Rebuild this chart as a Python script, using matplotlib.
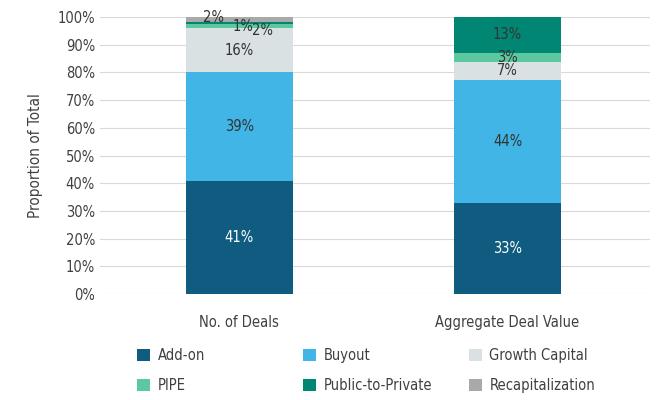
import matplotlib
matplotlib.use("Agg")
import matplotlib.pyplot as plt
import numpy as np

plt.rcParams['font.family'] = ['DejaVu Sans']
plt.rcParams['font.stretch'] = 'condensed'

categories = ["No. of Deals", "Aggregate Deal Value"]
series = ["Add-on", "Buyout", "Growth Capital", "PIPE", "Public-to-Private", "Recapitalization"]
values = {
    "Add-on": [40.8, 32.9],
    "Buyout": [39.2, 44.4],
    "Growth Capital": [15.9, 6.6],
    "PIPE": [1.7, 3.2],
    "Public-to-Private": [0.7, 12.9],
    "Recapitalization": [1.7, 0.0],
}
labels = {
    "Add-on": ["41%", "33%"],
    "Buyout": ["39%", "44%"],
    "Growth Capital": ["16%", "7%"],
    "PIPE": ["2%", "3%"],
    "Public-to-Private": ["1%", "13%"],
    "Recapitalization": ["2%", ""],
}
colors = ["#0F5C80", "#41B6E6", "#D9E1E2", "#5BC8A0", "#008673", "#A9A9A9"]

fig = plt.figure(figsize=(6.57, 4), dpi=100)
ax = fig.add_axes([0.152, 0.265, 0.837, 0.6925])

x = np.arange(len(categories))
bottom = np.zeros(len(categories))
# small offsets for the crowded labels at the top of the first bar
nudge = {("PIPE", 0): (0.085, -1.5), ("Public-to-Private", 0): (0.015, -1.5),
         ("Recapitalization", 0): (-0.095, 0.5)}
handles = []
for s, c in zip(series, colors):
    v = np.array(values[s])
    b = ax.bar(x, v, 0.4, bottom=bottom, color=c, label=s, zorder=2)
    handles.append(b)
    for i in range(len(categories)):
        if labels[s][i] == "":
            continue
        dx, dy = nudge.get((s, i), (0, 0))
        tc = "white" if s == "Add-on" else "#333333"
        ax.text(x[i] + dx, bottom[i] + v[i] / 2 + dy, labels[s][i], ha="center", va="center",
                fontsize=10.5, color=tc, zorder=3)
    bottom += v

ax.set_ylim(0, 100)
ax.set_xlim(-0.52, 1.53)
ax.set_yticks(np.arange(0, 101, 10))
ax.set_yticklabels(["%d%%" % t for t in range(0, 101, 10)])
ax.set_xticks(x)
ax.set_xticklabels(categories)
ax.tick_params(length=0, labelsize=10.5, colors="#404040")
ax.tick_params(axis="x", pad=15)
ax.grid(axis="y", color="#D9D9D9", linewidth=0.8, zorder=0)
for sp in ax.spines.values():
    sp.set_visible(False)
ax.set_ylabel("Proportion of Total", fontsize=11, color="#404040", labelpad=10)

# legend: three fixed-width columns, filled row by row
col_x = [137, 303, 469]
for j in range(3):
    idx = [j, j + 3]
    leg = fig.legend([handles[k] for k in idx], [series[k] for k in idx],
                     loc="upper left", bbox_to_anchor=(col_x[j] / 657, 1 - 348 / 400),
                     frameon=False, fontsize=10.5, handlelength=0.9, handleheight=0.9,
                     labelcolor="#404040", handletextpad=0.5, labelspacing=1.05,
                     borderpad=0, borderaxespad=0)

fig.savefig("out.png", dpi=100)
